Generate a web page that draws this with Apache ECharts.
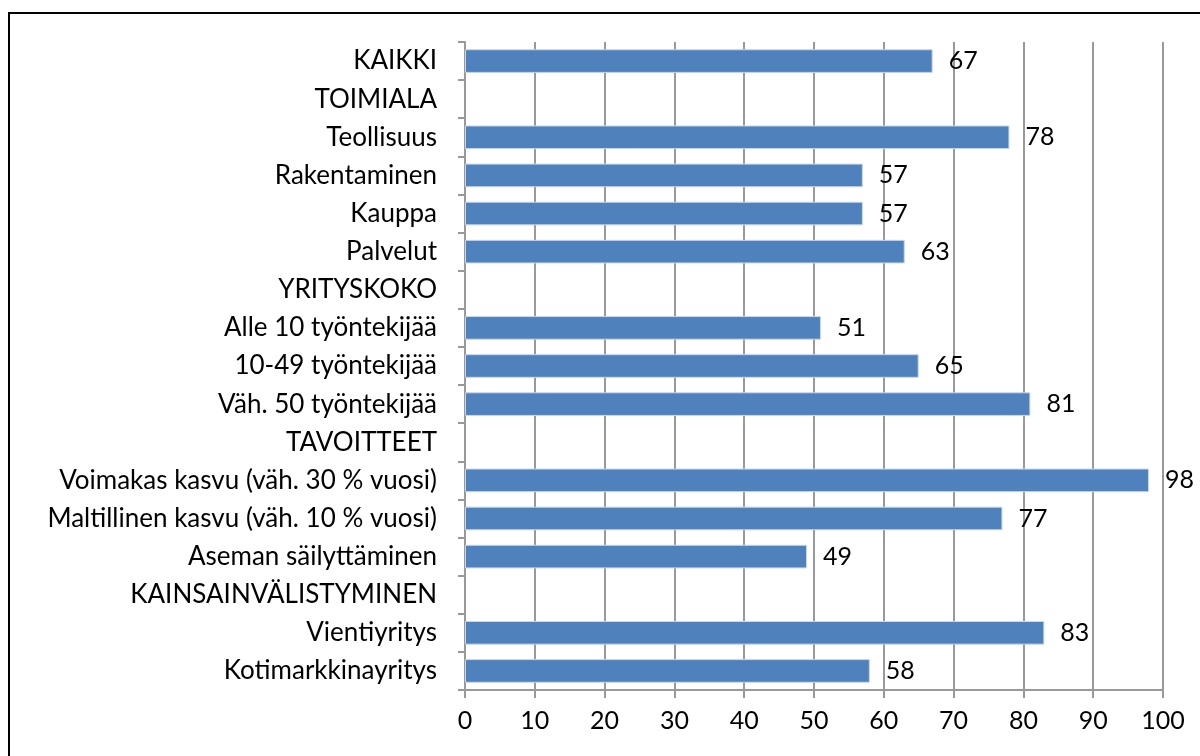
<!DOCTYPE html>
<html>
<head>
<meta charset="utf-8">
<script src="https://cdn.jsdelivr.net/npm/echarts@6/dist/echarts.min.js"></script>
<style>
    html, body { margin: 0; padding: 0; background: #fff; }
    #chart { width: 1200px; height: 756px; }
</style>
</head>
<body>
<div id="chart"></div>
<script>
// kategoriat ylhäältä alas
const categories = [
    'KAIKKI', 'TOIMIALA', 'Teollisuus', 'Rakentaminen', 'Kauppa', 'Palvelut',
    'YRITYSKOKO', 'Alle 10 työntekijää', '10-49 työntekijää', 'Väh. 50 työntekijää',
    'TAVOITTEET', 'Voimakas kasvu (väh. 30 % vuosi)', 'Maltillinen kasvu (väh. 10 % vuosi)',
    'Aseman säilyttäminen', 'KAINSAINVÄLISTYMINEN', 'Vientiyritys', 'Kotimarkkinayritys'
];
const values = [67, null, 78, 57, 57, 63, null, 51, 65, 81, null, 98, 77, 49, null, 83, 58];
const xTicks = [0, 10, 20, 30, 40, 50, 60, 70, 80, 90, 100];

const font = 'Lato, "Open Sans", sans-serif';
const chart = echarts.init(document.getElementById('chart'));

chart.setOption({
    animation: false,
    graphic: [
        {
            type: 'rect',
            shape: { x: 9, y: 13, width: 1250, height: 800 },
            style: { fill: 'none', stroke: '#000', lineWidth: 2 }
        }
    ],
    grid: { left: 465, right: 37, top: 42, bottom: 66 },
    xAxis: {
        type: 'value',
        min: xTicks[0],
        max: xTicks[xTicks.length - 1],
        interval: 10,
        axisLine: { show: true, lineStyle: { color: '#999', width: 2 } },
        axisTick: { show: true, length: 8, lineStyle: { color: '#999', width: 2 } },
        axisLabel: { color: '#000', fontSize: 25, fontFamily: font, margin: 18 },
        splitLine: { show: true, lineStyle: { color: '#999', width: 2 } }
    },
    yAxis: {
        type: 'category',
        inverse: true,
        data: categories,
        axisLine: { show: true, lineStyle: { color: '#999', width: 2 } },
        axisTick: { show: true, length: 7, lineStyle: { color: '#999', width: 2 } },
        axisLabel: { color: '#000', fontSize: 26, fontFamily: font, margin: 28 }
    },
    series: [
        {
            type: 'bar',
            data: values,
            barCategoryGap: '38%',
            itemStyle: { color: '#4F81BD', borderColor: '#c9d7ea', borderWidth: 1 },
            label: {
                show: true,
                position: 'right',
                distance: 16,
                color: '#000',
                fontSize: 25,
                fontFamily: font
            }
        }
    ]
});
</script>
</body>
</html>
